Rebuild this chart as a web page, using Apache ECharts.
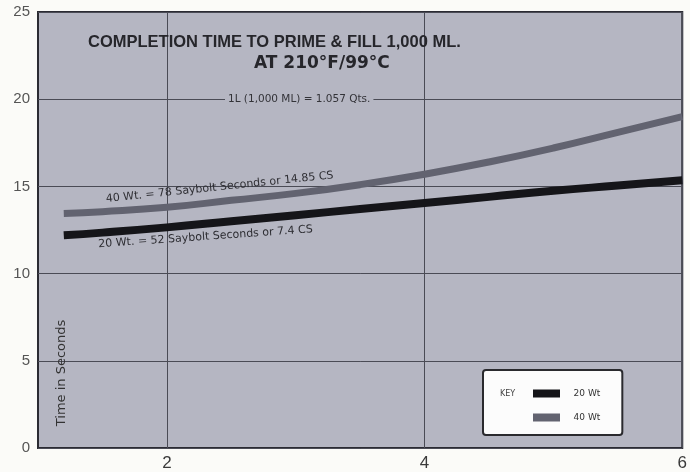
<!DOCTYPE html>
<html>
<head>
<meta charset="utf-8">
<script src="https://cdn.jsdelivr.net/npm/echarts@6/dist/echarts.min.js"></script>
<style>
html,body{margin:0;padding:0;background:#fbfbf8;}
#chart{width:690px;height:472px;}
</style>
</head>
<body>
<div id="chart"></div>
<script>
// Data
var xValues = [1.2, 1.5, 2, 2.5, 3, 3.5, 4, 4.5, 5, 5.5, 6];
var wt20 = [12.2, 12.35, 12.65, 13.0, 13.35, 13.7, 14.05, 14.4, 14.75, 15.05, 15.35];
var wt40 = [13.45, 13.55, 13.8, 14.2, 14.6, 15.1, 15.7, 16.4, 17.2, 18.1, 19.0];
var xTickLabels = [2, 4, 6];
var seriesNames = ['20 Wt', '40 Wt'];
var titleLine1 = 'COMPLETION TIME TO PRIME & FILL 1,000 ML.';
var titleLine2 = 'AT 210°F/99°C';
var noteText = '1L (1,000 ML) = 1.057 Qts.';
var label40 = '40 Wt. = 78 Saybolt Seconds or 14.85 CS';
var label20 = '20 Wt. = 52 Saybolt Seconds or 7.4 CS';
var yName = 'Time in Seconds';

function pairs(xs, ys) { return xs.map(function (x, i) { return [x, ys[i]]; }); }

var chart = echarts.init(document.getElementById('chart'));
var plotBg = '#b5b6c2';
chart.setOption({
  backgroundColor: '#fbfbf8',
  animation: false,
  title: [
    { text: titleLine1, left: 88, top: 34, padding: 0,
      textStyle: { fontFamily: 'Liberation Sans, Arial', fontWeight: 'bold', fontSize: 16.5, color: '#26262b' } },
    { text: titleLine2, left: 254, top: 55, padding: 0,
      textStyle: { fontFamily: 'DejaVu Sans', fontWeight: 'bold', fontSize: 17, color: '#26262b' } },
    { text: noteText, left: 225, top: 94, padding: [0, 3],
      backgroundColor: plotBg,
      textStyle: { fontFamily: 'DejaVu Sans', fontWeight: 'normal', fontSize: 10.5, color: '#333338' } }
  ],
  grid: { left: 38, right: 2, top: 12, bottom: 24, show: true,
          backgroundColor: plotBg, borderColor: '#2b2b33', borderWidth: 2, containLabel: false },
  xAxis: {
    type: 'value', min: 1, max: 6,
    axisLine: { show: false },
    axisTick: { show: false, customValues: xTickLabels },
    axisLabel: { customValues: xTickLabels, color: '#3a3a3a', fontSize: 17, margin: 7,
                 fontFamily: 'Liberation Sans, Arial' },
    splitLine: { show: true, lineStyle: { color: '#4a4b55', width: 1 } }
  },
  yAxis: {
    type: 'value', min: 0, max: 25, interval: 5,
    axisLine: { show: false },
    axisTick: { show: false },
    axisLabel: { color: '#555', fontSize: 15, margin: 8, fontFamily: 'Liberation Sans, Arial' },
    splitLine: { show: true, lineStyle: { color: '#4a4b55', width: 1 } }
  },
  legend: {
    data: seriesNames, orient: 'vertical', left: 483, top: 370,
    icon: 'rect', itemWidth: 27, itemHeight: 8, itemGap: 15,
    padding: [19, 22, 13, 50],
    formatter: '   {name}',
    backgroundColor: '#fcfcfc', borderColor: '#2a2a2e', borderWidth: 2, borderRadius: 3,
    textStyle: { fontSize: 9, color: '#333', fontFamily: 'DejaVu Sans' }
  },
  graphic: [
    { type: 'text', left: 500, top: 390, z: 100,
      style: { text: 'KEY', fontSize: 8, fill: '#444', fontFamily: 'DejaVu Sans' } },
    { type: 'text', x: 62, y: 373, rotation: Math.PI / 2, z: 100,
      style: { text: yName, fontSize: 13, fill: '#333', fontFamily: 'DejaVu Sans',
               align: 'center', verticalAlign: 'middle' } }
  ],
  series: [
    { name: seriesNames[0], type: 'line', smooth: true, showSymbol: false, symbol: 'none',
      data: pairs(xValues, wt20), z: 3,
      lineStyle: { color: '#151519', width: 8 }, itemStyle: { color: '#151519' },
      markPoint: { symbol: 'circle', symbolSize: 0, silent: true,
        data: [{ coord: [2.3, 12.1], value: 0 }],
        label: { show: true, position: 'inside', rotate: 4, formatter: label20,
                 fontSize: 11, color: '#2e2e33', fontFamily: 'DejaVu Sans' } } },
    { name: seriesNames[1], type: 'line', smooth: true, showSymbol: false, symbol: 'none',
      data: pairs(xValues, wt40), z: 2,
      lineStyle: { color: '#626370', width: 7 }, itemStyle: { color: '#626370' },
      markPoint: { symbol: 'circle', symbolSize: 0, silent: true,
        data: [{ coord: [2.41, 14.95], value: 0 }],
        label: { show: true, position: 'inside', rotate: 6, formatter: label40,
                 fontSize: 11, color: '#2e2e33', fontFamily: 'DejaVu Sans' } } }
  ]
});
</script>
</body>
</html>
